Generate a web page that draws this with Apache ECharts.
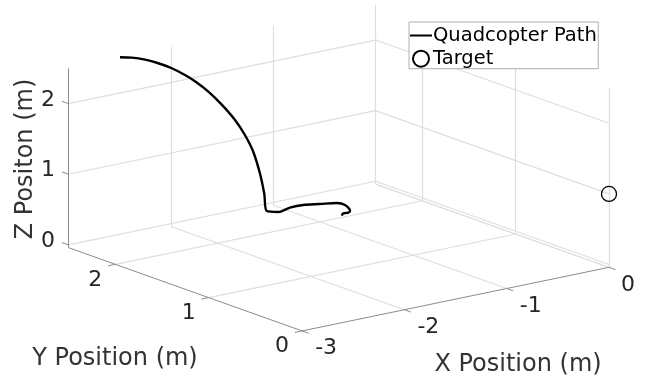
<!DOCTYPE html>
<html>
<head>
<meta charset="utf-8">
<style>html,body{margin:0;padding:0;background:#fff}#chart{width:655px;height:377px}</style>
<script src="https://cdn.jsdelivr.net/npm/echarts@6/dist/echarts.min.js"></script>
</head>
<body>
<div id="chart"></div>
<script>
// Data values (metres)
var pathX = [-2.494,-2.413,-2.322,-2.231,-2.139,-2.049,-1.982,-1.894,-1.808,-1.722,-1.659,-1.606,-1.565,-1.538,-1.523,-1.453,-1.355,-1.226,-1.106,-0.984,-0.968,-1.036,-1.081,-1.123,-1.173];
var pathY = [2.504,2.468,2.424,2.382,2.338,2.296,2.262,2.215,2.166,2.118,2.081,2.049,2.023,2.006,1.996,1.950,1.932,1.930,1.884,1.837,1.766,1.638,1.607,1.616,1.576];
var pathZ = [2.503,2.490,2.455,2.397,2.319,2.217,2.125,1.974,1.786,1.565,1.351,1.110,0.804,0.514,0.273,0.26,0.30,0.30,0.30,0.30,0.30,0.30,0.30,0.30,0.30];
var targetPoint = [0, 0, 1];
var xTicks = [-3, -2, -1, 0];
var yTicks = [0, 1, 2];
var zTicks = [0, 1, 2];
var xRange = [-3, 0];
var yRange = [0, 2.5];
var zRange = [-0.04, 2.5];

// View projection of the 3D axes onto the page
function project(x, y, z) {
  return [609 + 102.3 * x - 93.4 * y, 264.5 - 21.2 * x - 33.3 * y - 70.6 * z];
}
function seg(a, b) { return { coords: [project(a[0], a[1], a[2]), project(b[0], b[1], b[2])] }; }

var grid3d = [], axis3d = [];
var x0 = xRange[0], x1 = xRange[1], y0 = yRange[0], y1 = yRange[1], z0 = zRange[0], z1 = zRange[1];
xTicks.forEach(function (t) {
  if (t !== x0) {
    grid3d.push(seg([t, y0, z0], [t, y1, z0]));
    grid3d.push(seg([t, y1, z0], [t, y1, z1]));
  }
  axis3d.push(seg([t, y0, z0], [t, y0 - 0.07, z0]));
});
yTicks.forEach(function (t) {
  if (t !== y0) grid3d.push(seg([x0, t, z0], [x1, t, z0]));
  grid3d.push(seg([x1, t, z0], [x1, t, z1]));
  axis3d.push(seg([x0, t, z0], [x0 - 0.07, t, z0]));
});
zTicks.forEach(function (t) {
  grid3d.push(seg([x0, y1, t], [x1, y1, t]));
  grid3d.push(seg([x1, y1, t], [x1, y0, t]));
  axis3d.push(seg([x0, y1, t], [x0, y1 + 0.07, t]));
});
axis3d.push(seg([x0, y0, z0], [x1, y0, z0]));
axis3d.push(seg([x0, y0, z0], [x0, y1, z0]));
axis3d.push(seg([x0, y1, z0], [x0, y1, z1]));

var pathData = pathX.map(function (x, i) { return project(x, pathY[i], pathZ[i]); });

function tickSeries(id, items, dxFn, dy) {
  return {
    id: id, type: 'scatter', symbol: 'circle', symbolSize: 1, silent: true, legendHoverLink: false,
    itemStyle: { color: 'rgba(0,0,0,0)', opacity: 1 },
    data: items.map(function (it) {
      return {
        value: it.p,
        label: {
          show: true, position: 'inside', formatter: String(it.t), opacity: 1,
          offset: [dxFn(it.t), dy], fontFamily: 'DejaVu Sans', fontSize: 22, color: '#262626'
        }
      };
    })
  };
}

var titleStyle = { fontFamily: 'DejaVu Sans', fontSize: 24, fill: '#333', textAlign: 'center', textVerticalAlign: 'middle' };
function title(text, x, y, rot) {
  return { type: 'text', x: x, y: y, rotation: rot || 0, silent: true,
    style: Object.assign({ text: text }, titleStyle) };
}

var chart = echarts.init(document.getElementById('chart'), null, { renderer: 'canvas' });
chart.setOption({
  animation: false,
  backgroundColor: '#fff',
  grid: { left: 0, right: 0, top: 0, bottom: 0 },
  xAxis: { type: 'value', min: 0, max: 655, show: false },
  yAxis: { type: 'value', min: 0, max: 377, inverse: true, show: false },
  legend: {
    left: 409, top: 22, orient: 'vertical', align: 'left',
    backgroundColor: '#fff', borderColor: '#aeaeae', borderWidth: 1, borderRadius: 0,
    padding: [3.5, 1.5, 0, 1], itemGap: 3.2, itemWidth: 22, itemHeight: 16,
    selectedMode: false,
    textStyle: { fontFamily: 'DejaVu Sans', fontSize: 19.5, lineHeight: 16, color: '#000', padding: [0, 0, 0, -4] },
    data: [
      { name: 'Quadcopter Path', icon: 'path://M0 0h.01v.01H0Z M0 7H22V9H0Z M0 15.99h.01V16H0Z' },
      { name: 'Target' }
    ]
  },
  graphic: [
    title('Y Position (m)', 115, 359),
    title('X Position (m)', 518, 365),
    title('Z Positon (m)', 26, 159, Math.PI / 2)
  ],
  series: [
    { type: 'lines', coordinateSystem: 'cartesian2d', silent: true, z: 1,
      lineStyle: { color: '#dedede', width: 1.2, opacity: 1 }, data: grid3d },
    { type: 'lines', coordinateSystem: 'cartesian2d', silent: true, z: 2,
      lineStyle: { color: '#8c8c8c', width: 1, opacity: 1 }, data: axis3d },
    tickSeries('xt', xTicks.map(function (t) { return { t: t, p: project(t, y0, z0) }; }),
      function (t) { return t === 0 ? 19 : 24; }, 17.5),
    tickSeries('yt', yTicks.map(function (t) { return { t: t, p: project(x0, t, z0) }; }),
      function () { return -20; }, 15.5),
    tickSeries('zt', zTicks.map(function (t) { return { t: t, p: project(x0, y1, t) }; }),
      function () { return -20.5; }, -3.5),
    { name: 'Quadcopter Path', type: 'line', data: pathData, symbol: 'none', smooth: 0.3, z: 5,
      lineStyle: { color: '#000', width: 2.4 }, itemStyle: { color: '#000' } },
    { name: 'Target', type: 'scatter', symbol: 'circle', symbolSize: 15, z: 5,
      data: [project(targetPoint[0], targetPoint[1], targetPoint[2])],
      itemStyle: { color: 'rgba(255,255,255,0)', borderColor: '#000', borderWidth: 1.3, opacity: 1 } }
  ]
});
</script>
</body>
</html>
